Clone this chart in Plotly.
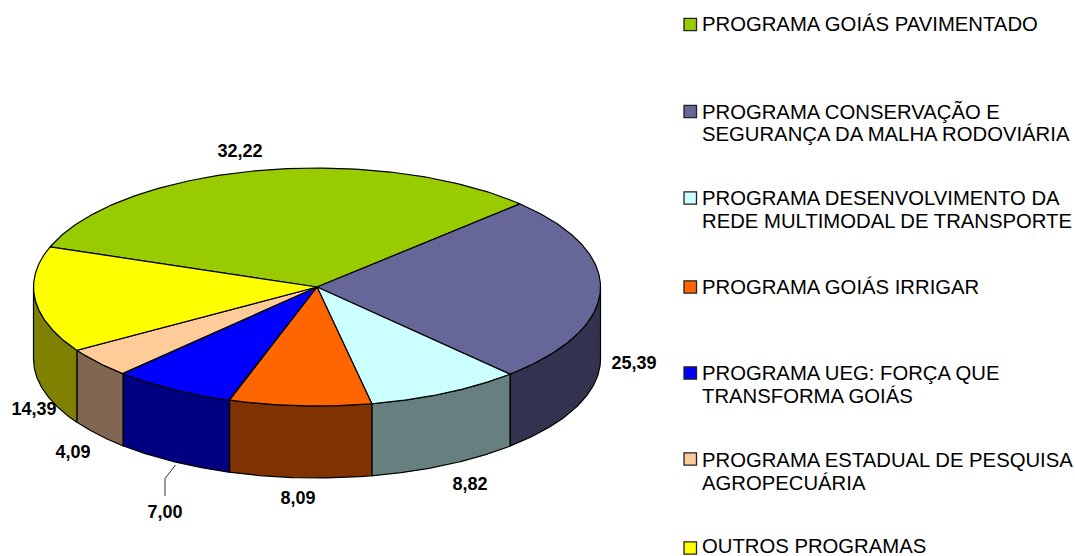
import numpy as np
import plotly.graph_objects as go

categories = [["PROGRAMA GOIÁS PAVIMENTADO"],
              ["PROGRAMA CONSERVAÇÃO E", "SEGURANÇA DA MALHA RODOVIÁRIA"],
              ["PROGRAMA DESENVOLVIMENTO DA", "REDE MULTIMODAL DE TRANSPORTE"],
              ["PROGRAMA GOIÁS IRRIGAR"],
              ["PROGRAMA UEG: FORÇA QUE", "TRANSFORMA GOIÁS"],
              ["PROGRAMA ESTADUAL DE PESQUISA", "AGROPECUÁRIA"],
              ["OUTROS PROGRAMAS"]]
values = [32.22, 25.39, 8.82, 8.09, 7.00, 4.09, 14.39]
value_labels = ["32,22", "25,39", "8,82", "8,09", "7,00", "4,09", "14,39"]
top_colors = ["#99CC00", "#666699", "#CCFFFF", "#FF6600", "#0000FF", "#FFCC99", "#FFFF00"]
side_colors = ["#4D6600", "#333350", "#668080", "#803300", "#000080", "#806650", "#808000"]
label_x = [240, 634, 470, 298, 165, 73, 34]
label_y = [152, 364, 485, 499, 513, 453, 410]
legend_y = [24, 111.3, 198.3, 286.5, 373.3, 460.3, 546]
legend_sq_y = [24.5, 111.5, 198, 287, 373, 459, 548]

CX, CY, RX, RY, DEPTH = 317.0, 287.0, 283.5, 119.0, 72.0
START = -70.3
LINE_STEP = 22.5

def pt(theta, dy=0.0):
    t = np.radians(theta)
    return CX + RX * np.sin(t), CY - RY * np.cos(t) + dy

fig = go.Figure()
total = sum(values)
edges = START + np.concatenate([[0], np.cumsum(values)]) / total * 360.0

# side walls
for i, c in enumerate(side_colors):
    a, b = max(edges[i], 90.0), min(edges[i + 1], 270.0)
    if b <= a:
        continue
    th = np.linspace(a, b, 80)
    x1, y1 = pt(th)
    x2, y2 = pt(th[::-1], DEPTH)
    fig.add_trace(go.Scatter(x=np.r_[x1, x2, x1[0]], y=np.r_[y1, y2, y1[0]], mode="lines",
                             fill="toself", fillcolor=c, line=dict(color="black", width=1.2),
                             hoverinfo="skip", showlegend=False))
# top faces
for i, c in enumerate(top_colors):
    th = np.linspace(edges[i], edges[i + 1], 160)
    x1, y1 = pt(th)
    fig.add_trace(go.Scatter(x=np.r_[CX, x1, CX], y=np.r_[CY, y1, CY], mode="lines",
                             fill="toself", fillcolor=c, line=dict(color="black", width=1.2),
                             name=" ".join(categories[i]), hoverinfo="name", showlegend=False))

# value labels
fig.add_trace(go.Scatter(x=label_x, y=label_y, mode="text", text=value_labels,
                         textposition="middle center", hoverinfo="skip", showlegend=False,
                         textfont=dict(family="Liberation Sans", size=18, color="black",
                                       weight="bold")))

shapes = [dict(type="path", path="M175.5,465 L165,478.5 L165,496",
               line=dict(color="#333333", width=1))]
annotations = []
for lines, c, ty, sy in zip(categories, top_colors, legend_y, legend_sq_y):
    shapes.append(dict(type="rect", x0=684, x1=696.5, y0=sy - 6.2, y1=sy + 6.2, fillcolor=c,
                       line=dict(color="#222222", width=1.3)))
    for k, line in enumerate(lines):
        annotations.append(dict(x=700, y=ty + k * LINE_STEP, text=line, xref="x", yref="y",
                                xanchor="left", yanchor="middle", align="left", showarrow=False,
                                font=dict(family="Liberation Sans", size=20.3, color="black")))

fig.update_layout(width=1075, height=556, margin=dict(l=0, r=0, t=0, b=0),
                  paper_bgcolor="white", plot_bgcolor="white", showlegend=False,
                  xaxis=dict(range=[0, 1075], visible=False, fixedrange=True),
                  yaxis=dict(range=[556, 0], visible=False, fixedrange=True),
                  shapes=shapes, annotations=annotations)
fig.write_html("out.html", config=dict(displayModeBar=False),
               post_script="document.body.style.margin='0';document.documentElement.style.overflow='hidden';")
